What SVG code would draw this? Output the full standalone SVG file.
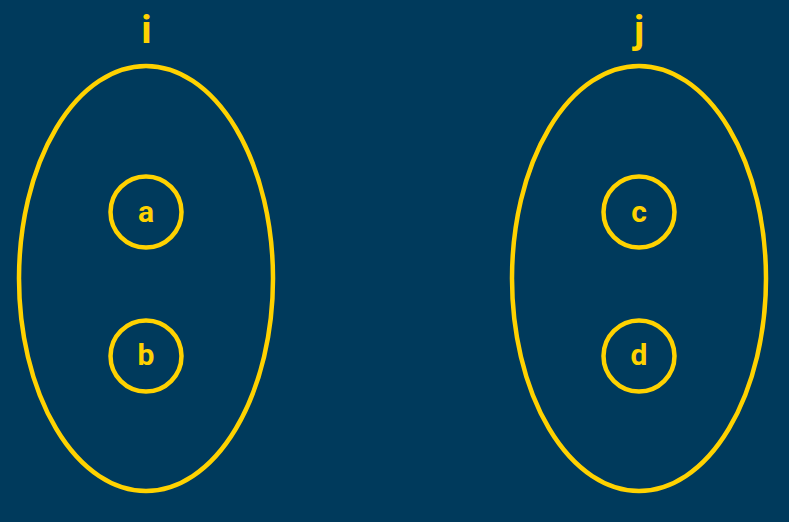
<svg xmlns="http://www.w3.org/2000/svg" width="789" height="522" viewBox="0 0 789 522">
<style>
.set{fill:none;stroke:#FFD200;stroke-width:4.5}
.el{fill:none;stroke:#FFD200;stroke-width:4.5}
.lbl{fill:#FFD200;font-family:Roboto,"Liberation Sans",sans-serif;font-weight:bold;text-anchor:middle}
.big{font-size:39px}
.sm{font-size:30px}
</style>
<rect width="789" height="522" fill="#003A5C"/>
<g id="set-i">
<ellipse class="set" cx="146" cy="278.5" rx="127" ry="212.5"/>
<text class="lbl big" x="146.5" y="43">i</text>
</g>
<g id="set-j">
<ellipse class="set" cx="639" cy="278.5" rx="127" ry="212.5"/>
<text class="lbl big" x="639" y="43">j</text>
</g>
<g id="node-a">
<circle class="el" cx="146" cy="212" r="35.5"/>
<text class="lbl sm" x="146" y="222">a</text>
</g>
<g id="node-b">
<circle class="el" cx="146" cy="356" r="35.5"/>
<text class="lbl sm" x="146" y="365">b</text>
</g>
<g id="node-c">
<circle class="el" cx="639" cy="212" r="35.5"/>
<text class="lbl sm" x="639" y="222">c</text>
</g>
<g id="node-d">
<circle class="el" cx="639" cy="356" r="35.5"/>
<text class="lbl sm" x="639" y="365">d</text>
</g>
<g id="connectors"></g>
</svg>
